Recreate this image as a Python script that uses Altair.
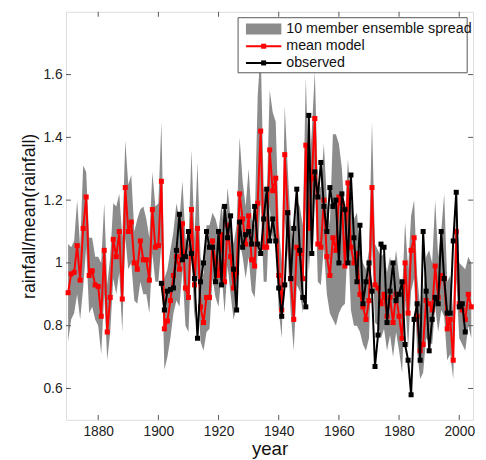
import altair as alt
import pandas as pd

# ---------------- data ----------------
model_start = 1870
model = [
    0.905, 0.965, 0.97, 1.055, 0.945, 1.11, 1.21, 0.96, 0.975, 0.93,
    0.925, 0.83, 1.04, 0.78, 0.89, 1.075, 1.02, 1.10, 0.885, 1.24,
    1.10, 1.13, 1.00, 0.98, 1.07, 1.01, 1.01, 0.945, 1.17, 1.05,
    1.055, 1.26, 0.79, 0.815, 0.88, 0.96, 1.02, 0.98, 1.125, 0.92,
    0.89, 1.17, 0.93, 1.11, 0.86, 0.81, 0.89, 0.89, 1.07, 1.00,
    0.96, 1.09, 0.94, 1.12, 1.02, 0.92, 0.97, 1.22, 1.14, 1.06,
    1.15, 1.01, 0.99, 1.19, 1.42, 1.05, 1.05, 1.36, 1.23, 1.27,
    0.96, 0.85, 1.345, 1.16, 0.95, 0.82, 1.05, 1.03, 0.95, 1.375,
    1.11, 1.27, 1.46, 1.06, 1.05, 1.20, 1.02, 0.96, 1.08, 1.04,
    1.21, 1.19, 0.99, 1.255, 1.05, 1.00, 1.03, 0.90, 0.86, 0.82,
    0.88, 1.24, 0.93, 0.92, 0.87, 0.90, 0.83, 0.89, 0.81, 0.90,
    0.83, 0.76, 1.00, 0.84, 1.04, 1.08, 0.83, 0.72, 0.74, 0.88,
    0.87, 0.85, 0.99, 0.89, 0.96, 0.95, 0.79, 0.82, 0.69, 1.10,
    0.87, 0.85, 0.82, 0.90, 0.86,
]
spread_upper = [
    1.06, 1.05, 1.07, 1.20, 1.05, 1.31, 1.29, 1.08, 1.08, 1.02,
    1.02, 1.00, 1.19, 0.93, 1.02, 1.19, 1.18, 1.22, 1.08, 1.39,
    1.25, 1.28, 1.10, 1.14, 1.17, 1.18, 1.14, 1.08, 1.29, 1.18,
    1.19, 1.45, 0.95, 0.98, 1.04, 1.10, 1.19, 1.14, 1.26, 1.08,
    1.06, 1.36, 1.08, 1.32, 1.02, 0.96, 1.12, 1.12, 1.16, 1.14,
    1.10, 1.19, 1.08, 1.24, 1.14, 1.06, 1.12, 1.40, 1.26, 1.18,
    1.30, 1.14, 1.12, 1.53, 1.68, 1.24, 1.20, 1.55, 1.48, 1.45,
    1.12, 1.00, 1.50, 1.30, 1.12, 1.05, 1.20, 1.18, 1.12, 1.59,
    1.28, 1.42, 1.61, 1.25, 1.24, 1.38, 1.20, 1.12, 1.41, 1.41,
    1.38, 1.30, 1.14, 1.33, 1.20, 1.14, 1.16, 1.04, 1.00, 0.98,
    1.04, 1.45, 1.06, 1.04, 1.02, 1.03, 0.97, 1.02, 0.96, 1.04,
    0.96, 0.90, 1.13, 0.98, 1.15, 1.20, 0.96, 0.86, 0.90, 1.02,
    1.04, 1.00, 1.20, 1.02, 1.10, 1.22, 0.94, 0.96, 0.84, 1.22,
    1.00, 0.99, 0.98, 1.02, 1.00,
]
spread_lower = [
    0.75, 0.82, 0.84, 0.90, 0.82, 0.92, 1.05, 0.84, 0.86, 0.82,
    0.80, 0.71, 0.90, 0.69, 0.78, 0.95, 0.90, 0.97, 0.78, 1.08,
    0.98, 1.00, 0.88, 0.87, 0.94, 0.90, 0.90, 0.84, 1.03, 0.94,
    0.94, 1.06, 0.66, 0.70, 0.76, 0.84, 0.88, 0.86, 0.98, 0.80,
    0.78, 1.02, 0.82, 0.96, 0.75, 0.72, 0.78, 0.79, 0.95, 0.89,
    0.86, 0.97, 0.84, 0.99, 0.90, 0.82, 0.86, 1.07, 1.02, 0.95,
    1.02, 0.91, 0.89, 1.03, 1.20, 0.94, 0.94, 1.18, 1.07, 1.10,
    0.85, 0.76, 1.14, 1.02, 0.84, 0.72, 0.93, 0.91, 0.84, 1.18,
    0.97, 1.12, 1.26, 0.94, 0.93, 1.05, 0.90, 0.84, 0.82, 0.80,
    0.84, 0.86, 0.87, 1.08, 0.85, 0.80, 0.80, 0.78, 0.74, 0.72,
    0.76, 1.06, 0.81, 0.80, 0.76, 0.79, 0.72, 0.77, 0.70, 0.78,
    0.72, 0.65, 0.88, 0.73, 0.91, 0.95, 0.72, 0.63, 0.65, 0.76,
    0.75, 0.74, 0.86, 0.78, 0.85, 0.83, 0.69, 0.71, 0.63, 0.95,
    0.76, 0.74, 0.72, 0.80, 0.76,
]
obs_start = 1901
observed = [
    0.935, 0.85, 0.91, 0.915, 0.92, 1.04, 1.155, 1.01, 1.02,
    1.10, 1.03, 0.95, 0.76, 0.94, 1.00, 1.10, 1.05, 1.05, 0.94,
    1.10, 0.93, 1.18, 1.08, 1.15, 0.98, 0.85, 1.13, 1.05, 1.09,
    1.10, 1.06, 1.18, 1.06, 1.03, 1.14, 1.235, 1.07, 1.14, 1.07,
    0.92, 0.83, 0.93, 1.16, 0.95, 1.11, 1.235, 1.04, 0.89, 0.86,
    1.47, 1.03, 1.29, 1.21, 1.32, 1.18, 1.10, 1.24, 1.18, 1.20,
    1.00, 1.22, 1.17, 1.00, 1.28, 1.08, 0.94, 1.12, 0.87, 0.94,
    1.00, 0.91, 0.67, 0.77, 1.06, 1.05, 0.81, 0.91, 1.00, 0.88,
    0.90, 0.94, 0.74, 0.69, 0.58, 0.82, 0.87, 0.69, 1.10, 0.91,
    0.72, 0.82, 0.89, 0.87, 1.10, 0.95, 0.84, 0.84, 1.07, 1.225,
    0.86, 0.87, 0.78,
]
x_ticks = [1880, 1900, 1920, 1940, 1960, 1980, 2000]
y_ticks = [0.6, 0.8, 1.0, 1.2, 1.4, 1.6]
legend_labels = ["10 member ensemble spread", "mean model", "observed"]

assert len(model) == len(spread_upper) == len(spread_lower)

# ---------------- styling ----------------
W, H = 414, 415
FONT = "Liberation Sans"
FRAME = "#555555"
GRAY = "#8c8c8c"
RED = "#ff0000"
BLACK = "#000000"
MARK = 26

xs = alt.Scale(domain=[1869.3, 2004.6], nice=False, zero=False)
ys = alt.Scale(domain=[0.5, 1.8], nice=False, zero=False)

dm = pd.DataFrame({
    "year": list(range(model_start, model_start + len(model))),
    "model": model, "upper": spread_upper, "lower": spread_lower,
})
do = pd.DataFrame({
    "year": list(range(obs_start, obs_start + len(observed))),
    "obs": observed,
})
dxt = pd.DataFrame({"year": x_ticks})
dyt = pd.DataFrame({"val": y_ticks})
one = pd.DataFrame({"a": [0]})

x_axis = alt.Axis(values=x_ticks, format="d", title="year", ticks=False, domain=False,
                  grid=False, labelPadding=5, titlePadding=1, labelFontSize=14,
                  titleFontSize=19, labelFont=FONT, titleFont=FONT,
                  labelColor="#222", titleColor="#111", titleFontWeight="normal")
y_axis = alt.Axis(values=y_ticks, format="~g", title="rainfall/mean(rainfall)", ticks=False,
                  domain=False, grid=False, labelPadding=4, titlePadding=5,
                  labelFontSize=14, titleFontSize=18, labelFont=FONT, titleFont=FONT,
                  labelColor="#222", titleColor="#111", titleFontWeight="normal")


def X(field):
    return alt.X(field, scale=xs, axis=x_axis)


def Y(field):
    return alt.Y(field, scale=ys, axis=y_axis)


band = alt.Chart(dm).mark_area(color=GRAY, opacity=1, interpolate="linear").encode(
    x=X("year:Q"), y=Y("upper:Q"), y2="lower:Q",
)

red_line = alt.Chart(dm).mark_line(
    color=RED, strokeWidth=2,
    point=alt.OverlayMarkDef(shape="square", size=MARK, filled=True, color=RED),
).encode(x=X("year:Q"), y=Y("model:Q"))

black_line = alt.Chart(do).mark_line(
    color=BLACK, strokeWidth=2,
    point=alt.OverlayMarkDef(shape="square", size=MARK, filled=True, color=BLACK),
).encode(x=X("year:Q"), y=Y("obs:Q"))

# inward ticks on all four sides (MATLAB style)
tick_len = 5
yt_left = alt.Chart(dyt).mark_rule(color=FRAME).encode(
    y=Y("val:Q"), x=alt.value(0), x2=alt.value(tick_len))
yt_right = alt.Chart(dyt).mark_rule(color=FRAME).encode(
    y=Y("val:Q"), x=alt.value(W - tick_len), x2=alt.value(W))
xt_bottom = alt.Chart(dxt).mark_rule(color=FRAME).encode(
    x=X("year:Q"), y=alt.value(H - tick_len), y2=alt.value(H))
xt_top = alt.Chart(dxt).mark_rule(color=FRAME).encode(
    x=X("year:Q"), y=alt.value(0), y2=alt.value(tick_len))

# legend box (top-right, inside the plot)
leg_box = alt.Chart(one).mark_rect(fill="white", stroke=FRAME, strokeWidth=1).encode(
    x=alt.value(175), x2=alt.value(408), y=alt.value(6), y2=alt.value(62))
leg_patch = alt.Chart(one).mark_rect(fill=GRAY).encode(
    x=alt.value(183), x2=alt.value(219), y=alt.value(12), y2=alt.value(23))
legend_layers = [leg_box, leg_patch]
for ly, col in [(35, RED), (52, BLACK)]:
    legend_layers.append(alt.Chart(one).mark_rule(color=col, strokeWidth=2).encode(
        x=alt.value(183), x2=alt.value(219), y=alt.value(ly)))
    legend_layers.append(alt.Chart(one).mark_point(shape="square", filled=True, size=MARK,
                                                   color=col, opacity=1).encode(
        x=alt.value(201), y=alt.value(ly)))
for lbl, ly in zip(legend_labels, [17.5, 35, 52]):
    legend_layers.append(alt.Chart(pd.DataFrame({"t": [lbl]})).mark_text(
        align="left", baseline="middle", font=FONT, fontSize=14.5, color="#111").encode(
        x=alt.value(224), y=alt.value(ly), text="t:N"))

chart = alt.layer(
    band, red_line, black_line, yt_left, yt_right, xt_bottom, xt_top, *legend_layers
).properties(
    width=W, height=H,
    autosize=alt.AutoSizeParams(type="none"),
    padding={"left": 59, "top": 0, "right": 5, "bottom": 40},
).configure_view(
    stroke=FRAME, strokeWidth=1
).configure(background="white")

chart.save("out.html", embed_options={"renderer": "svg", "actions": False})
